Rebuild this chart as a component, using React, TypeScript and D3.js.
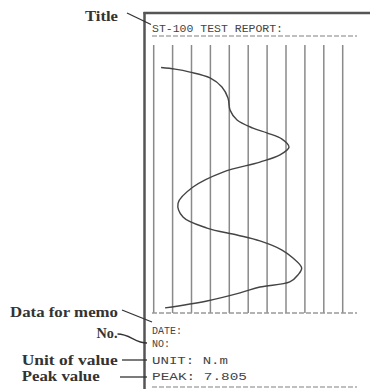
import React from "react";
import * as d3 from "d3";

const titleText = "ST-100 TEST REPORT:";
const memoLines = ["DATE:", "NO:", "UNIT: N.m", "PEAK: 7.805"];
const calloutLabels = ["Title", "Data for memo", "No.", "Unit of value", "Peak value"];
const gridTicks = [0, 1, 2, 3, 4, 5, 6, 7, 8, 9, 10];

// time (0-100, top to bottom) and measured value (0-10, left to right)
const timeValues = [8.4, 9.0, 10.1, 12.3, 15.7, 19.8, 24.3, 28.0, 31.0, 32.8, 35.1, 38.1, 41.0, 43.7, 47.4, 53.0, 59.0, 64.2, 68.3, 70.9, 73.1, 76.5, 79.5, 83.2, 85.8, 88.4, 90.3, 92.5, 95.5, 98.1];
const curveValues = [0.39, 1.13, 1.92, 2.98, 3.61, 3.93, 4.04, 4.41, 5.25, 5.99, 6.79, 7.16, 6.68, 5.62, 3.67, 2.08, 1.29, 1.55, 2.82, 4.41, 5.62, 6.79, 7.37, 7.83, 7.63, 7.2, 5.62, 4.57, 2.82, 0.6];

export default function App() {
  const W = 370, H = 389;
  const x = d3.scaleLinear().domain([0, 10]).range([153.7, 342.7]);
  const y = d3.scaleLinear().domain([0, 100]).range([45, 313]);
  const pts: [number, number][] = timeValues.map((t, i) => [x(curveValues[i]), y(t)]);
  const line = d3.line().curve(d3.curveCatmullRom.alpha(0.5));
  const pathD = line(pts) || "";

  const serif = "'Liberation Serif', 'Times New Roman', serif";
  const mono = "'Liberation Mono', 'DejaVu Sans Mono', monospace";
  const labelColor = "#333";

  const labelPos = [
    { x: 85, y: 21, len: 33 },
    { x: 10, y: 317, len: 108 },
    { x: 96.5, y: 338, len: 21 },
    { x: 21.7, y: 365, len: 96 },
    { x: 21.7, y: 381, len: 78 },
  ];
  const leaders = [
    "M127,13 L151,24.5",
    "M122,310 L152,322",
    "M117.5,334 C130,334 135,343 147,343",
    "M122,360 L147,360",
    "M120,377 L147,377",
  ];
  const memoPos = [
    { y: 334, len: 30 },
    { y: 347, len: 18 },
    { y: 364, len: 76 },
    { y: 380, len: 95 },
  ];

  return (
    <svg width={W} height={H} style={{ position: "absolute", left: 0, top: 0, background: "#fff" }}>
      {/* frame */}
      <line x1={144.5} x2={144.5} y1={12} y2={389} stroke="#555" strokeWidth={2.5} />
      <line x1={143.5} x2={370} y1={13} y2={13} stroke="#555" strokeWidth={2.5} />

      {/* title */}
      <text x={152} y={32} fontFamily={mono} fontSize={11} fill="#444" textLength={131} lengthAdjust="spacingAndGlyphs">
        {titleText}
      </text>
      <line x1={152} x2={357} y1={36} y2={36} stroke="#aaa" strokeWidth={1.6} strokeDasharray="5,2" />

      {/* grid */}
      {gridTicks.map((t) => (
        <line key={t} x1={x(t)} x2={x(t)} y1={y(0)} y2={y(100)} stroke="#8a8a8a" strokeWidth={1.5} />
      ))}
      <line x1={152} x2={357} y1={313} y2={313} stroke="#999" strokeWidth={1.6} strokeDasharray="5,2" />

      {/* curve */}
      <path d={pathD} fill="none" stroke="#444" strokeWidth={1.4} />

      {/* memo lines */}
      {memoLines.map((m, i) => (
        <text key={m} x={152} y={memoPos[i].y} fontFamily={mono} fontSize={11} fill="#444" textLength={memoPos[i].len} lengthAdjust="spacingAndGlyphs">
          {m}
        </text>
      ))}
      <line x1={152} x2={357} y1={387} y2={387} stroke="#aaa" strokeWidth={1.6} strokeDasharray="5,2" />

      {/* callouts */}
      {calloutLabels.map((l, i) => (
        <text key={l} x={labelPos[i].x} y={labelPos[i].y} fontFamily={serif} fontSize={15} fontWeight="bold" fill={labelColor} textLength={labelPos[i].len} lengthAdjust="spacingAndGlyphs">
          {l}
        </text>
      ))}
      {leaders.map((d, i) => (
        <path key={i} d={d} fill="none" stroke="#333" strokeWidth={1.3} />
      ))}
    </svg>
  );
}
